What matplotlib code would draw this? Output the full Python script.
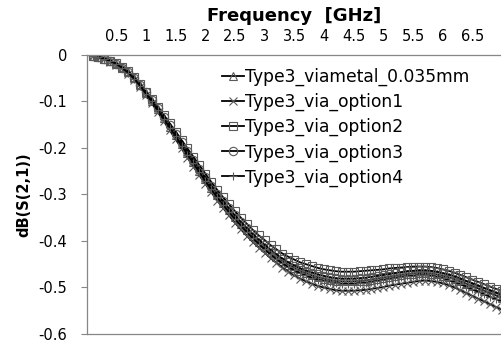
import numpy as np
import matplotlib
matplotlib.use("Agg")
from matplotlib import pyplot as plt
from matplotlib.ticker import FixedLocator

# 频率点 0.1 ~ 7.0 GHz
freq = np.round(np.arange(1, 71) * 0.1, 1)

viametal = [-0.002, -0.004, -0.008, -0.013, -0.019, -0.027, -0.037, -0.050, -0.065, -0.082,
            -0.099, -0.117, -0.135, -0.154, -0.173, -0.192, -0.211, -0.230, -0.249, -0.267,
            -0.285, -0.302, -0.318, -0.334, -0.349, -0.363, -0.377, -0.390, -0.402, -0.413,
            -0.424, -0.434, -0.443, -0.451, -0.458, -0.464, -0.469, -0.474, -0.478, -0.481,
            -0.484, -0.486, -0.487, -0.487, -0.487, -0.486, -0.485, -0.483, -0.481, -0.479,
            -0.477, -0.475, -0.473, -0.471, -0.470, -0.469, -0.469, -0.470, -0.472, -0.475,
            -0.478, -0.482, -0.487, -0.492, -0.497, -0.502, -0.507, -0.512, -0.517, -0.522]

option1 = [-0.002, -0.005, -0.009, -0.014, -0.021, -0.029, -0.040, -0.053, -0.069, -0.087,
           -0.104, -0.123, -0.142, -0.162, -0.181, -0.201, -0.221, -0.240, -0.259, -0.277,
           -0.295, -0.313, -0.329, -0.345, -0.361, -0.375, -0.389, -0.402, -0.414, -0.425,
           -0.437, -0.447, -0.457, -0.466, -0.474, -0.481, -0.487, -0.492, -0.497, -0.500,
           -0.503, -0.506, -0.507, -0.507, -0.507, -0.506, -0.505, -0.503, -0.501, -0.499,
           -0.496, -0.494, -0.492, -0.490, -0.488, -0.486, -0.485, -0.486, -0.488, -0.491,
           -0.495, -0.500, -0.506, -0.512, -0.518, -0.524, -0.530, -0.536, -0.542, -0.548]

option2 = [-0.002, -0.004, -0.008, -0.012, -0.018, -0.026, -0.035, -0.048, -0.062, -0.079,
           -0.095, -0.112, -0.129, -0.147, -0.165, -0.183, -0.201, -0.219, -0.237, -0.255,
           -0.273, -0.290, -0.306, -0.321, -0.336, -0.350, -0.363, -0.376, -0.388, -0.398,
           -0.409, -0.418, -0.427, -0.434, -0.440, -0.446, -0.450, -0.454, -0.458, -0.461,
           -0.463, -0.465, -0.466, -0.466, -0.466, -0.465, -0.464, -0.463, -0.462, -0.461,
           -0.459, -0.458, -0.457, -0.456, -0.455, -0.455, -0.455, -0.456, -0.458, -0.461,
           -0.464, -0.468, -0.473, -0.478, -0.483, -0.488, -0.493, -0.498, -0.503, -0.508]

option3 = [-0.002, -0.004, -0.008, -0.013, -0.019, -0.027, -0.036, -0.049, -0.064, -0.080,
           -0.097, -0.115, -0.133, -0.151, -0.170, -0.188, -0.207, -0.226, -0.245, -0.263,
           -0.281, -0.298, -0.314, -0.330, -0.345, -0.359, -0.372, -0.385, -0.397, -0.408,
           -0.419, -0.429, -0.438, -0.446, -0.453, -0.459, -0.464, -0.468, -0.472, -0.475,
           -0.478, -0.480, -0.481, -0.481, -0.481, -0.480, -0.479, -0.477, -0.475, -0.473,
           -0.471, -0.469, -0.467, -0.465, -0.464, -0.463, -0.463, -0.464, -0.466, -0.469,
           -0.472, -0.476, -0.481, -0.486, -0.491, -0.496, -0.501, -0.506, -0.511, -0.516]

option4 = [-0.002, -0.004, -0.008, -0.013, -0.019, -0.028, -0.038, -0.051, -0.066, -0.083,
           -0.100, -0.119, -0.137, -0.156, -0.175, -0.195, -0.214, -0.233, -0.252, -0.271,
           -0.289, -0.306, -0.322, -0.338, -0.353, -0.367, -0.381, -0.394, -0.406, -0.418,
           -0.429, -0.439, -0.448, -0.456, -0.463, -0.469, -0.474, -0.479, -0.483, -0.486,
           -0.489, -0.491, -0.492, -0.492, -0.492, -0.491, -0.490, -0.488, -0.486, -0.484,
           -0.482, -0.480, -0.478, -0.476, -0.475, -0.474, -0.474, -0.475, -0.477, -0.480,
           -0.484, -0.488, -0.493, -0.498, -0.504, -0.509, -0.514, -0.520, -0.525, -0.530]

series = [
    ("Type3_viametal_0.035mm", viametal, "^"),
    ("Type3_via_option1", option1, "x"),
    ("Type3_via_option2", option2, "s"),
    ("Type3_via_option3", option3, "o"),
    ("Type3_via_option4", option4, "+"),
]

xtick_pos = [0.5, 1, 1.5, 2, 2.5, 3, 3.5, 4, 4.5, 5, 5.5, 6, 6.5]
xtick_txt = ["0.5", "1", "1.5", "2", "2.5", "3", "3.5", "4", "4.5", "5", "5.5", "6", "6.5"]
ytick_pos = [0, -0.1, -0.2, -0.3, -0.4, -0.5, -0.6]
ytick_txt = ["0", "-0.1", "-0.2", "-0.3", "-0.4", "-0.5", "-0.6"]

fig = plt.figure(figsize=(5.02, 3.42), dpi=100)
ax = fig.add_axes([0.1725, 0.0234, 0.8275, 0.8158])

for name, vals, mk in series:
    ax.plot(freq, vals, color="black", lw=1.3, marker=mk, markersize=6,
            markerfacecolor="none", markeredgecolor="#5a5a5a", markeredgewidth=0.8,
            label=name)

ax.set_xlim(0, 7)
ax.set_ylim(-0.6, 0)

# x 轴放在上方
ax.xaxis.tick_top()
ax.xaxis.set_label_position("top")
ax.xaxis.set_major_locator(FixedLocator(xtick_pos))
ax.set_xticklabels(xtick_txt)
ax.xaxis.set_minor_locator(FixedLocator([1, 2, 3, 4, 5, 6]))
ax.tick_params(axis="x", which="major", length=0, pad=8, labelsize=10.5)
ax.tick_params(axis="x", which="minor", length=4, color="#868686", width=0.8)

ax.set_yticks(ytick_pos)
ax.set_yticklabels(ytick_txt)
ax.tick_params(axis="y", length=4, color="#868686", width=0.8, labelsize=10.5, pad=10)

for s in ["left", "top", "bottom"]:
    ax.spines[s].set_color("#868686")
    ax.spines[s].set_linewidth(0.9)
ax.spines["right"].set_visible(False)

ax.set_xlabel("Frequency  [GHz]", fontsize=13, fontweight="bold", labelpad=6)
ax.set_ylabel("dB(S(2,1))", fontsize=10.5, fontweight="bold", labelpad=5)

ax.legend(loc="upper left", bbox_to_anchor=(0.31, 0.978), frameon=False,
          fontsize=12.3, handlelength=1.25, handletextpad=0.1, labelspacing=0.4,
          borderaxespad=0)

fig.savefig("out.png", dpi=100)
